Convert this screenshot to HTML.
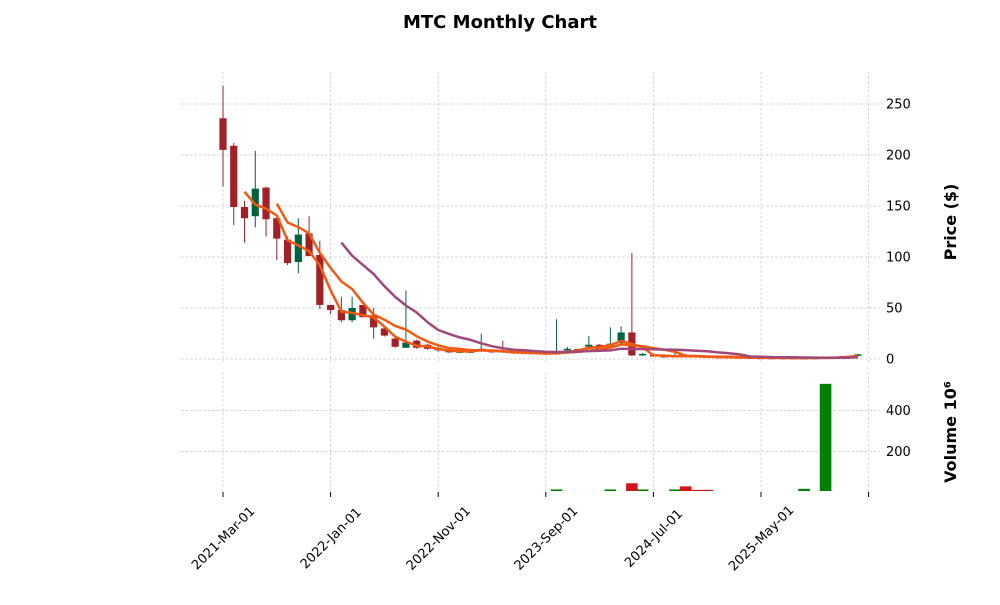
<!DOCTYPE html>
<html><head><meta charset="utf-8"><style>
body{margin:0;background:#fff;font-family:"Liberation Sans","DejaVu Sans",sans-serif}
svg text{font-family:"DejaVu Sans","Liberation Sans",sans-serif}
</style></head><body>
<svg id="c" width="1000" height="600" xmlns="http://www.w3.org/2000/svg"></svg>
<script>
const months=["2021-Mar-01","2022-Jan-01","2022-Nov-01","2023-Sep-01","2024-Jul-01","2025-May-01"];
const tickIdx=[0,10,20,30,40,50,60];
const opens=[236,209,149,140,168,138,117,95,123,102,53,48,38,53,43,30,20,11,18,14,11,8.5,6,6,8,8.5,8,7,7,6.5,6.5,4.5,8.5,10,12,14,12.5,15.5,26,3.5,4,3,2.5,3,3,2.5,2.2,2,1.8,1.5,1.3,1.2,1.2,1.1,1.1,1.2,1.3,1.5,2,3];
const closes=[205,149,138,167,137,118,94,122,101,53,48,38,50,41,31,23,12,16,11,10,8.5,6.5,7.5,8.5,10,6.5,6.5,6,6,5.5,4.5,6.5,10,9,14,12,15,26,3.5,5,2.6,2.5,3,2.5,2.2,2,1.8,1.6,1.4,1.2,1.1,1,1,1,1.1,1.2,1.4,1.8,2.8,4.5];
const highs=[268,212,155,204,169,140,120,138,140,116,53,61,61,53,50,32,21,67,19,15,12,9,8,10,25,9,18,8,8,7,7,39,12,10,22.5,14.5,31,32,104,6,5,4,6,5,3.5,3,2.5,2.2,2,1.7,1.5,1.3,1.3,1.2,1.3,1.4,1.6,2.2,3.2,5.2];
const lows=[169,131,114,129,120,97,92,84,101,49,44,36,36,41,20,22,11,11,10,9,7,6,5.5,5.5,7,6,6,5.5,5.5,5,4,4.5,8,8.5,11.5,11.5,12,15,3,3,2.2,2.2,2.4,2.2,2,1.8,1.6,1.4,1.2,1,1,0.9,0.9,0.9,1,1.1,1.2,1.5,2.5,2.8];
const volumes=[3,3,3,3,3,3,3,3,3,3,3,3,3,3,3,3,3,3,3,3,3,3,3,3,3,3,3,3,3,3,3,15,3,3,3,3,15,3,45,15,3,3,15,30,13,13,3,3,3,3,3,3,3,3,18,3,530,3,3,3];
const priceTicks=[0,50,100,150,200,250];
const volTicks=[200,400];
const NS="http://www.w3.org/2000/svg",svg=document.getElementById('c');
function el(t,a,txt){const e=document.createElementNS(NS,t);for(const k in a)e.setAttribute(k,a[k]);if(txt!==undefined)e.textContent=txt;svg.appendChild(e);return e;}
const X=i=>223+i*10.76, PY=p=>359-p*1.02, VY=v=>492.5-v*0.205;
for(const i of tickIdx){const x=X(i);
 let g=el('line',{x1:x,x2:x,y1:72,y2:362,stroke:'#c4c4c4','stroke-dasharray':'2.5,2','stroke-width':0.7});
 g=el('line',{x1:x,x2:x,y1:372,y2:491,stroke:'#c4c4c4','stroke-dasharray':'2.5,2','stroke-width':0.7});
 g=el('line',{x1:x,x2:x,y1:492,y2:497,stroke:'#000','stroke-width':1});}
for(const p of priceTicks){const y=PY(p);
 let g=el('line',{x1:181,x2:880,y1:y,y2:y,stroke:'#c4c4c4','stroke-dasharray':'2.5,2','stroke-width':0.7});
 g=el('text',{x:886,y:y+4.5,'font-size':13},String(p));}
for(const v of volTicks){const y=VY(v);
 let g=el('line',{x1:181,x2:880,y1:y,y2:y,stroke:'#c4c4c4','stroke-dasharray':'2.5,2','stroke-width':0.7});
 g=el('text',{x:886,y:y+4.5,'font-size':13},String(v));}
months.forEach((m,k)=>{const x=X(tickIdx[k]);const cy=538;const t=el('text',{x:x,y:cy+4.5,'font-size':13,'text-anchor':'middle',transform:`rotate(-45 ${x} ${cy})`},m);
 });
for(let i=0;i<opens.length;i++){const up=closes[i]>=opens[i];const col=up?'#006340':'#a02128';const x=X(i);
 const w=el('line',{x1:x,x2:x,y1:PY(highs[i]),y2:PY(lows[i]),stroke:col,'stroke-width':1});
 const t=PY(Math.max(opens[i],closes[i])),b=PY(Math.min(opens[i],closes[i]));
 const r=el('rect',{x:x-3.6,y:t,width:7.2,height:Math.max(b-t,1.5),fill:col});
 const vt=Math.max(VY(volumes[i]),372);const vh=491-vt;
 if(vh>0){const vb=el('rect',{x:x-5.8,y:vt,width:11.6,height:vh,fill:up?'#007f00':'#d2141e'});}}
[[3,'#f05a12'],[6,'#f05a12'],[12,'#a0487a']].forEach(([n,c])=>{let pts=[];
 for(let i=n-1;i<closes.length;i++){let s=0;for(let j=i-n+1;j<=i;j++)s+=closes[j];pts.push(X(i).toFixed(1)+','+PY(s/n).toFixed(1));}
 const p=el('polyline',{points:pts.join(' '),fill:'none',stroke:c,'stroke-width':2.5,'stroke-linejoin':'round'});
 });
let t=el('text',{x:500,y:28,'font-size':18,'font-weight':'bold','text-anchor':'middle'},'MTC Monthly Chart');
t=el('text',{x:956,y:222,'font-size':16,'font-weight':'bold','text-anchor':'middle',transform:'rotate(-90 956 222)'},'Price ($)');
t=el('text',{x:956,y:432,'font-size':16,'font-weight':'bold','text-anchor':'middle',transform:'rotate(-90 956 432)'},'Volume  10⁶');
</script>
</body></html>
